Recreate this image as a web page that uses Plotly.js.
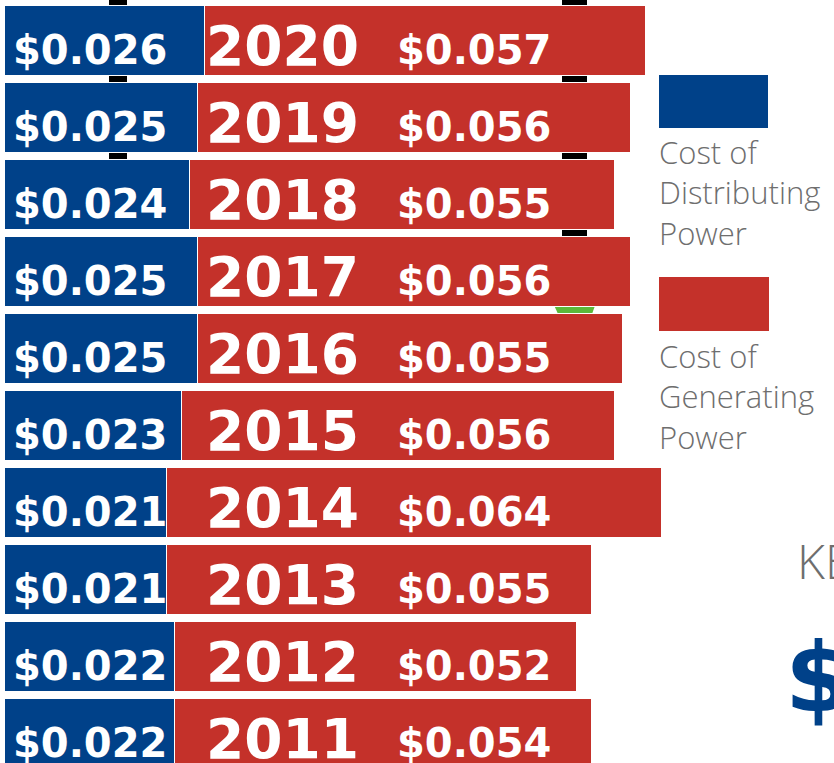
<!DOCTYPE html>
<html>
<head>
<meta charset="utf-8">
<script src="https://cdn.plot.ly/plotly-3.0.1.min.js"></script>
<style>
  html, body { margin: 0; padding: 0; background: #ffffff; }
  #chart { width: 834px; height: 763px; }
</style>
</head>
<body>
<div id="chart"></div>
<script>
// ---- data ----
var years = [2011, 2012, 2013, 2014, 2015, 2016, 2017, 2018, 2019, 2020];
var distributing = [0.022, 0.022, 0.021, 0.021, 0.023, 0.025, 0.025, 0.024, 0.025, 0.026];
var generating = [0.054, 0.052, 0.055, 0.064, 0.056, 0.055, 0.056, 0.055, 0.056, 0.057];
var seriesNames = ['Cost of<br>Distributing<br>Power', 'Cost of<br>Generating<br>Power'];
var seriesColors = ['#004189', '#c4312a'];

// ---- geometry helpers (page pixels -> paper coords) ----
var W = 834, H = 763, ML = 4;
function px(x) { return (x - ML) / (W - ML); }
function py(y) { return 1 - y / H; }

function money(v) { return '$' + v.toFixed(3); }

var traces = [
  {
    type: 'bar', orientation: 'h', name: 'Distributing',
    y: years, x: distributing, width: 0.909,
    marker: { color: seriesColors[0], line: { color: '#ffffff', width: 1 } },
    hoverinfo: 'skip'
  },
  {
    type: 'bar', orientation: 'h', name: 'Generating',
    y: years, x: generating, width: 0.909,
    marker: { color: seriesColors[1], line: { color: '#ffffff', width: 1 } },
    hoverinfo: 'skip'
  }
];

var annotations = [];
years.forEach(function (yr, i) {
  annotations.push({
    xref: 'x', yref: 'y', x: 0, y: yr, xanchor: 'left', yanchor: 'middle',
    xshift: 7, yshift: -9, showarrow: false, text: money(distributing[i]),
    font: { family: 'DejaVu Sans', size: 40, weight: 700, color: '#ffffff' }
  });
  annotations.push({
    xref: 'paper', yref: 'y', x: px(204), y: yr, xanchor: 'left', yanchor: 'middle',
    yshift: -5, showarrow: false, text: String(yr),
    font: { family: 'DejaVu Sans', size: 55, weight: 700, color: '#ffffff' }
  });
  annotations.push({
    xref: 'paper', yref: 'y', x: px(395), y: yr, xanchor: 'left', yanchor: 'middle',
    yshift: -9, showarrow: false, text: money(generating[i]),
    font: { family: 'DejaVu Sans', size: 40, weight: 700, color: '#ffffff' }
  });
});

// legend texts
annotations.push({
  xref: 'paper', yref: 'paper', x: px(657), y: py(129), xanchor: 'left', yanchor: 'top',
  align: 'left', showarrow: false, text: seriesNames[0],
  font: { family: 'Open Sans', size: 31, weight: 300, color: '#6e6e6e' }
});
annotations.push({
  xref: 'paper', yref: 'paper', x: px(657), y: py(333), xanchor: 'left', yanchor: 'top',
  align: 'left', showarrow: false, text: seriesNames[1],
  font: { family: 'Open Sans', size: 31, weight: 300, color: '#6e6e6e' }
});
// cut-off side texts
annotations.push({
  xref: 'paper', yref: 'paper', x: px(795), y: py(560), xanchor: 'left', yanchor: 'middle',
  showarrow: false, text: 'KEY',
  font: { family: 'Open Sans', size: 48, weight: 300, color: '#6e6e6e' }
});
annotations.push({
  xref: 'paper', yref: 'paper', x: px(783), y: py(678), xanchor: 'left', yanchor: 'middle',
  showarrow: false, text: '$0.08',
  font: { family: 'DejaVu Sans', size: 96, weight: 700, color: seriesColors[0] }
});

var shapes = [
  // sign posts behind the bars
  { type: 'rect', xref: 'paper', yref: 'paper', layer: 'below',
    x0: px(109), x1: px(127), y0: py(0), y1: py(200), fillcolor: '#000000', line: { width: 0 } },
  { type: 'rect', xref: 'paper', yref: 'paper', layer: 'below',
    x0: px(562), x1: px(587), y0: py(0), y1: py(306), fillcolor: '#000000', line: { width: 0 } },
  // grass tuft
  { type: 'path', xref: 'paper', yref: 'paper', layer: 'below',
    path: 'M ' + px(554) + ' ' + py(305) + ' L ' + px(558) + ' ' + py(314) + ' L ' + px(592) + ' ' + py(314) + ' L ' + px(596) + ' ' + py(303) + ' Z',
    fillcolor: '#5cb83a', line: { width: 0 } },
  // legend swatches
  { type: 'rect', xref: 'paper', yref: 'paper',
    x0: px(659), x1: px(768), y0: py(75), y1: py(128), fillcolor: seriesColors[0], line: { width: 0 } },
  { type: 'rect', xref: 'paper', yref: 'paper',
    x0: px(659), x1: px(769), y0: py(277), y1: py(331), fillcolor: seriesColors[1], line: { width: 0 } }
];

var layout = {
  width: W, height: H,
  margin: { l: ML, r: 0, t: 0, b: 0, pad: 0 },
  paper_bgcolor: '#ffffff', plot_bgcolor: 'rgba(0,0,0,0)',
  barmode: 'stack',
  showlegend: false,
  xaxis: { range: [0, (W - ML) / 7730], visible: false, fixedrange: true },
  yaxis: { range: [2010.623, 2020.532], visible: false, fixedrange: true },
  annotations: annotations,
  shapes: shapes
};

Plotly.newPlot('chart', traces, layout, { displayModeBar: false, staticPlot: true });
</script>
</body>
</html>
